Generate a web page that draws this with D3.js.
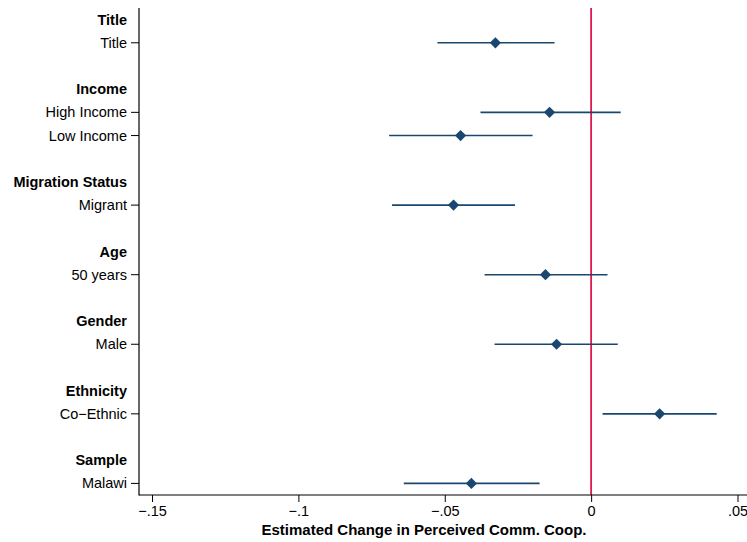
<!DOCTYPE html>
<html>
<head>
<meta charset="utf-8">
<script src="https://cdn.jsdelivr.net/npm/d3@7"></script>
<style>
  body { margin: 0; background: #fff; }
  text { font-family: "Liberation Sans", Arial, Helvetica, sans-serif; fill: #000; }
</style>
</head>
<body>
<script>
// rows top to bottom; header rows are bold, blank rows are spacers
var rowLabels = ["Title", "Title", "", "Income", "High Income", "Low Income", "",
                 "Migration Status", "Migrant", "", "Age", "50 years", "",
                 "Gender", "Male", "", "Ethnicity", "Co\u2212Ethnic", "", "Sample", "Malawi"];
var rowHeader = [1, 0, 0, 1, 0, 0, 0, 1, 0, 0, 1, 0, 0, 1, 0, 0, 1, 0, 0, 1, 0];

// estimates (row index, point, lower, upper)
var estRows  = [1, 4, 5, 8, 11, 14, 17, 20];
var estPoint = [-0.0327, -0.0142, -0.0446, -0.0470, -0.0156, -0.0118, 0.0234, -0.0409];
var estLow   = [-0.0525, -0.0378, -0.0690, -0.0680, -0.0364, -0.0330, 0.0039, -0.0640];
var estHigh  = [-0.0125, 0.0101, -0.0200, -0.0260, 0.0056, 0.0091, 0.0429, -0.0176];

var xTicks = [-0.15, -0.1, -0.05, 0, 0.05];
var xTickLabels = ["\u2212.15", "\u2212.1", "\u2212.05", "0", ".05"];

var width = 747, height = 542;
var plotLeft = 139, plotRight = 747, plotTop = 8, plotBottom = 495;

var svg = d3.select("body").append("svg")
  .attr("width", width)
  .attr("height", height);

var x = d3.scaleLinear().domain([-0.15, 0.05]).range([152, 737.5]);
var y = d3.scaleLinear().domain([-0.5, 20.5]).range([plotTop, plotBottom]);

// reference line at zero
svg.append("line")
  .attr("x1", x(0)).attr("x2", x(0))
  .attr("y1", plotTop).attr("y2", plotBottom)
  .attr("stroke", "#e0184f").attr("stroke-width", 1.8);

// confidence intervals
var data = estRows.map(function(r, i) {
  return {row: r, p: estPoint[i], lo: estLow[i], hi: estHigh[i]};
});

svg.append("g").selectAll("line")
  .data(data)
  .enter().append("line")
  .attr("x1", function(d) { return x(d.lo); })
  .attr("x2", function(d) { return x(d.hi); })
  .attr("y1", function(d) { return y(d.row); })
  .attr("y2", function(d) { return y(d.row); })
  .attr("stroke", "#1a476f").attr("stroke-width", 1.6);

// diamond markers
svg.append("g").selectAll("path")
  .data(data)
  .enter().append("path")
  .attr("d", d3.symbol().type(d3.symbolDiamond2).size(80))
  .attr("transform", function(d) { return "translate(" + x(d.p) + "," + y(d.row) + ")"; })
  .attr("fill", "#1a476f");

// left axis line
svg.append("line")
  .attr("x1", plotLeft).attr("x2", plotLeft)
  .attr("y1", plotTop).attr("y2", plotBottom + 0.5)
  .attr("stroke", "#000").attr("stroke-width", 1.2);

// bottom axis
var xAxis = d3.axisBottom(x)
  .tickValues(xTicks)
  .tickSize(7)
  .tickFormat(function(d, i) { return xTickLabels[i]; });

var gx = svg.append("g")
  .attr("transform", "translate(0," + plotBottom + ")")
  .call(xAxis);
gx.select(".domain").remove();
gx.append("line")
  .attr("x1", plotLeft).attr("x2", plotRight)
  .attr("stroke", "#000").attr("stroke-width", 1.2);
gx.selectAll(".tick line").attr("stroke", "#000");
gx.selectAll(".tick text")
  .attr("y", 11)
  .attr("dy", "0.71em")
  .style("font-size", "14.5px");

// y labels
var rows = rowLabels.map(function(l, i) { return {label: l, header: rowHeader[i], row: i}; })
  .filter(function(d) { return d.label !== ""; });

svg.append("g").selectAll("text")
  .data(rows)
  .enter().append("text")
  .attr("x", 127)
  .attr("y", function(d) { return y(d.row); })
  .attr("dy", "0.35em")
  .attr("text-anchor", "end")
  .style("font-size", "14.5px")
  .style("font-weight", function(d) { return d.header ? "bold" : "normal"; })
  .text(function(d) { return d.label; });

// y ticks for non-header rows
svg.append("g").selectAll("line")
  .data(rows.filter(function(d) { return !d.header; }))
  .enter().append("line")
  .attr("x1", 131).attr("x2", plotLeft)
  .attr("y1", function(d) { return y(d.row); })
  .attr("y2", function(d) { return y(d.row); })
  .attr("stroke", "#000").attr("stroke-width", 1);

// x axis title
svg.append("text")
  .attr("x", (plotLeft + plotRight) / 2 - 19)
  .attr("y", 535)
  .attr("text-anchor", "middle")
  .style("font-size", "15px")
  .style("font-weight", "bold")
  .text("Estimated Change in Perceived Comm. Coop.");
</script>
</body>
</html>
